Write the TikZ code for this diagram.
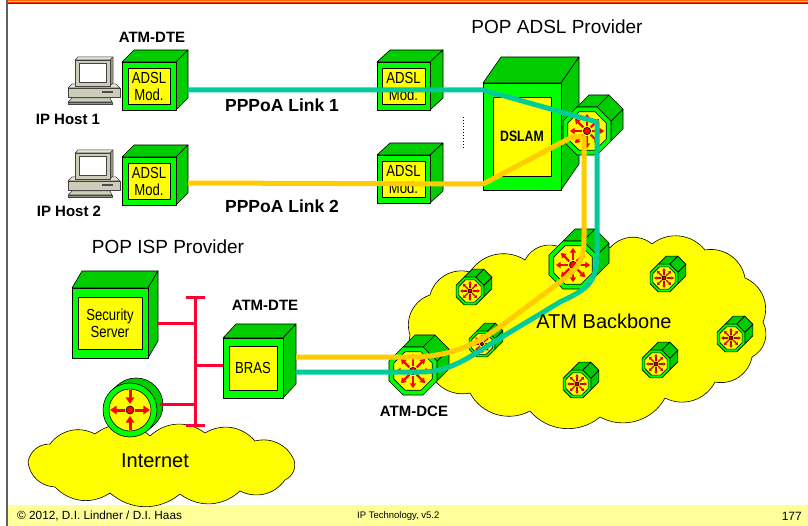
\documentclass[tikz,border=0pt]{standalone}
\usepackage{fontspec}
\setmainfont{Liberation Sans}
\newfontfamily\narrowsf[FakeStretch=0.82]{Liberation Sans}
\usetikzlibrary{arrows.meta}

\definecolor{boxgreen}{RGB}{0,255,0}
\definecolor{sidegreen}{RGB}{0,204,0}
\definecolor{iconyellow}{RGB}{255,255,0}
\definecolor{linkteal}{RGB}{0,204,153}
\definecolor{linkorange}{RGB}{255,204,0}
\definecolor{busred}{RGB}{255,0,51}
\definecolor{footeryellow}{RGB}{255,255,153}
\definecolor{bordergray}{RGB}{96,96,96}
\definecolor{pcbody}{RGB}{204,204,184}
\definecolor{pclight}{RGB}{228,228,212}
\definecolor{pcdark}{RGB}{150,150,132}
\definecolor{stripeA}{RGB}{255,102,0}
\definecolor{stripeB}{RGB}{255,204,0}
\definecolor{stripeC}{RGB}{255,51,0}
\definecolor{stripeD}{RGB}{190,0,0}
\definecolor{smallarrow}{RGB}{200,0,0}

\tikzset{
  outline/.style={draw=black, line width=0.6pt, line join=round},
  pcline/.style={draw=black!75, line width=0.5pt, line join=round},
  link/.style={line width=5pt, line join=round},
  bus/.style={draw=busred, line width=3pt},
  lbl/.style={font=\bfseries\fontsize{15}{15}\selectfont, inner sep=0pt},
  linklbl/.style={font=\bfseries\fontsize{17.5}{17.5}\selectfont, inner sep=0pt},
  title/.style={font=\fontsize{19}{19}\selectfont, inner sep=0pt},
  bigtitle/.style={font=\fontsize{20}{20}\selectfont, inner sep=0pt},
  boxtext/.style={font=\narrowsf\fontsize{16}{17}\selectfont, align=center, inner sep=0pt},
  foot/.style={font=\fontsize{11.8}{11.8}\selectfont, inner sep=0pt},
  cloudfill/.style={draw=black, line width=0.6pt, fill=iconyellow, line join=round},
  puff/.style={bend left=#1},
  swarrow/.style={line width=#1, -{Triangle[length=0pt 2.2, width=0pt 2.8]}},
  % 3D green box: width, height, depth x, depth y, inset x, inset y
  pics/gbox/.style n args={6}{code={
    \path[outline, fill=sidegreen] (0,0) -- (#1,0) -- ++(#3,-#4) -- (#3,-#4) -- cycle;
    \path[outline, fill=sidegreen] (#1,0) -- (#1,#2) -- ++(#3,-#4) -- (#1+#3,-#4) -- cycle;
    \path[outline, fill=boxgreen] (0,0) rectangle (#1,#2);
    \path[outline, fill=iconyellow] (#5,#6) rectangle (#1-#5,#2-#6);
    \coordinate (-c) at (#1/2,#2/2);
  }},
  % ATM switch: radius, depth, arrow width, arrow colour
  pics/atmsw/.style n args={4}{code={
    \foreach \a in {-22.5,-67.5,-112.5}{
      \path[outline, fill=sidegreen] (\a:#1) -- (\a+45:#1)
        -- ([shift={(#2,-#2)}]\a+45:#1) -- ([shift={(#2,-#2)}]\a:#1) -- cycle;
    }
    \path[outline, fill=boxgreen] (22.5:#1) \foreach \k in {1,...,7}{ -- (22.5+45*\k:#1)} -- cycle;
    \path[outline, fill=iconyellow] (22.5:0.8*#1) \foreach \k in {1,...,7}{ -- (22.5+45*\k:0.8*#1)} -- cycle;
    \foreach \a in {0,45,...,315}{
      \draw[swarrow=#3, color=#4] (\a:0.2*#1) -- (\a:0.66*#1);
    }
    \path[outline, fill=#4] (0,0) circle[radius=0.14*#1];
    \coordinate (-c) at (0,0);
  }},
  % router drum with four arrows
  pics/router/.style={code={
    \path[outline, fill=sidegreen] (6,-5) circle[radius=27];
    \fill[sidegreen] (50.2:27) -- ++(6,-5) -- ([shift={(6,-5)}]230.2:27) -- (230.2:27) -- cycle;
    \draw[black, line width=0.6pt] (50.2:27) -- ++(6,-5);
    \draw[black, line width=0.6pt] (230.2:27) -- ++(6,-5);
    \path[outline, fill=boxgreen] (0,0) circle[radius=27];
    \path[outline, fill=iconyellow] (0,0) circle[radius=21];
    \draw[swarrow=3pt, red] (0,-20) -- (0,-6);
    \draw[swarrow=3pt, red] (0,20) -- (0,6);
    \draw[swarrow=3pt, red] (-5,0) -- (-20,0);
    \draw[swarrow=3pt, red] (5,0) -- (20,0);
    \path[outline, fill=red] (0,0) circle[radius=4];
    \coordinate (-c) at (0,0);
  }},
  % desktop computer
  pics/pc/.style={code={
    \path[pcline, fill=pclight] (4,27) -- (48,27) -- (52,31) -- (0,31) -- cycle;
    \path[pcline, fill=pcbody] (0,31) rectangle (52,40);
    \draw[line width=1.2pt, black!70] (34,35) -- (45,35);
    \path[pcline, fill=pclight] (7,3) -- (10,0) -- (45,0) -- (42,3) -- cycle;
    \path[pcline, fill=pcdark] (42,3) -- (45,0) -- (45,26) -- (42,29) -- cycle;
    \path[pcline, fill=pcbody] (7,3) rectangle (42,29);
    \path[pcline, fill=white] (11,6) rectangle (38,25);
    \path[pcline, fill=pcbody] (4,41) -- (42,41) -- (44,45) -- (0,45) -- cycle;
    \path[pcline, fill=pcdark] (0,45) rectangle (44,47);
  }},
}

\begin{document}
\begin{tikzpicture}[x=1pt,y=-1pt]
\useasboundingbox (0,0) rectangle (808,526);

% page frame
\fill[bordergray] (6,0) rectangle (8,526);
\fill[stripeA] (8,0) rectangle (808,1);
\fill[stripeB] (8,1) rectangle (808,2);
\fill[stripeC] (8,2) rectangle (808,3);
\fill[stripeD] (8,3) rectangle (808,4);
\fill[footeryellow] (8,505) rectangle (808,526);
\node[foot, anchor=west] (copy) at (17,516) {© 2012, D.I. Lindner / D.I. Haas};
\node[foot, font=\fontsize{9.5}{9.5}\selectfont, anchor=west] (course) at (357,516) {IP Technology, v5.2};
\node[foot, font=\fontsize{12}{12}\selectfont, anchor=east] (page) at (802,516) {177};

% ATM backbone cloud
\path[cloudfill] (410,335) to[puff=45] (430,295) to[puff=45] (470,272) to[puff=45] (525,260)
  to[puff=45] (562,248) to[puff=45] (610,248) to[puff=45] (652,244) to[puff=45] (705,250)
  to[puff=45] (745,278) to[puff=45] (763,322) to[puff=45] (752,357) to[puff=45] (715,382)
  to[puff=45] (665,398) to[puff=45] (600,417) to[puff=45] (530,411) to[puff=45] (470,393)
  to[puff=45] (428,366) to[puff=45] cycle;
\coordinate (bb) at (587,331);

% Internet cloud
\path[cloudfill] (28,462) to[puff=40] (50,444) to[puff=40] (95,434) to[puff=40] (150,436)
  to[puff=40] (205,433) to[puff=40] (255,441) to[puff=40] (294,460) to[puff=40] (285,480)
  to[puff=40] (240,491) to[puff=40] (180,494) to[puff=40] (110,493) to[puff=40] (55,487)
  to[puff=40] cycle;
\coordinate (inet) at (162,462);

% hosts and modems
\pic (pc1) at (68,57) {pc};
\pic (pc2) at (68,150) {pc};
\pic (hm1) at (122,62) {gbox={54}{48}{12}{12}{6}{6}};
\pic (hm2) at (122,157) {gbox={54}{48}{12}{12}{6}{6}};
\node[boxtext] (hm1t) at (hm1-c) {ADSL\\Mod.};
\node[boxtext] (hm2t) at (hm2-c) {ADSL\\Mod.};

% provider side modems and DSLAM
\pic (pm1) at (377,62) {gbox={53}{48}{13}{12}{5}{6}};
\pic (pm2) at (377,155) {gbox={53}{48}{13}{12}{5}{6}};
\node[boxtext] (pm1t) at (pm1-c) {ADSL\\Mod.};
\node[boxtext] (pm2t) at (pm2-c) {ADSL\\Mod.};
\draw[dotted, line width=1pt] (463,117) -- (463,148);
\pic (dslam) at (483,83) {gbox={78}{107}{18}{26}{10}{14}};
\node[boxtext, font=\narrowsf\bfseries\fontsize{15}{15}\selectfont] (dslamt) at (dslam-c) {DSLAM};

% ATM switches
\pic (sw0) at (587,131) {atmsw={26}{12}{2.2pt}{red}};
\pic (sw1) at (573,265) {atmsw={26}{12}{2.2pt}{red}};
\pic (dce) at (413,371) {atmsw={26}{12}{2.2pt}{red}};
\pic (s1) at (470,291) {atmsw={15}{8}{1.2pt}{smallarrow}};
\pic (s2) at (664,278) {atmsw={15}{8}{1.2pt}{smallarrow}};
\pic (s3) at (731,338) {atmsw={15}{8}{1.2pt}{smallarrow}};
\pic (s4) at (656,364) {atmsw={15}{8}{1.2pt}{smallarrow}};
\pic (s5) at (577,384) {atmsw={15}{8}{1.2pt}{smallarrow}};
\pic (s6) at (482,344) {atmsw={14}{8}{1.2pt}{smallarrow}};

% ISP side
\pic (sec) at (72,288) {gbox={76}{70}{10}{17}{6}{9}};
\node[boxtext] (sect) at (sec-c) {Security\\Server};
\pic (bras) at (223,338) {gbox={60}{60}{13}{14}{6}{8}};
\node[boxtext] (brast) at (bras-c) {BRAS};
\pic (rt) at (130,410) {router};

% LAN bus
\coordinate (bustop) at (195,298);
\coordinate (busbot) at (195,425);
\draw[bus] (bustop) -- (busbot);
\draw[bus] (186,298) -- (205,298);
\draw[bus] (186,425) -- (205,425);
\draw[bus] (158,324) -- (195,324);
\draw[bus] (195,365) -- (223,365);
\draw[bus] (160,404) -- (195,404);

% PPPoA links
\coordinate (tealstart) at (188,90);
\coordinate (tealend) at (296,372);
\coordinate (orangestart) at (188,183);
\coordinate (orangeend) at (296,357);
\draw[link, linkteal] (tealstart) -- (483,90) -- (597,122) -- (597,255)
  .. controls (597,284) and (585,290) .. (560,302) -- (497,340)
  .. controls (468,358) and (450,372) .. (420,372) -- (tealend);
\draw[link, linkorange] (orangestart) -- (483,184) -- (572,137) -- (584,137) -- (584,238)
  .. controls (584,262) and (578,268) .. (560,282) -- (497,329)
  .. controls (470,348) and (445,357) .. (410,357) -- (orangeend);

% labels
\node[lbl] (dtetop) at (152,37) {ATM-DTE};
\node[lbl] (host1) at (68,119) {IP Host 1};
\node[lbl] (host2) at (69,211) {IP Host 2};
\node[linklbl] (link1) at (282,105) {PPPoA Link 1};
\node[linklbl] (link2) at (282,206) {PPPoA Link 2};
\node[title] (popadsl) at (557,27) {POP ADSL Provider};
\node[title] (popisp) at (168,247) {POP ISP Provider};
\node[lbl] (dtebras) at (265,305) {ATM-DTE};
\node[lbl] (dcelbl) at (414,411) {ATM-DCE};
\node[bigtitle] (bblbl) at (604,321) {ATM Backbone};
\node[bigtitle] (inetlbl) at (155,461) {Internet};
\end{tikzpicture}
\end{document}
